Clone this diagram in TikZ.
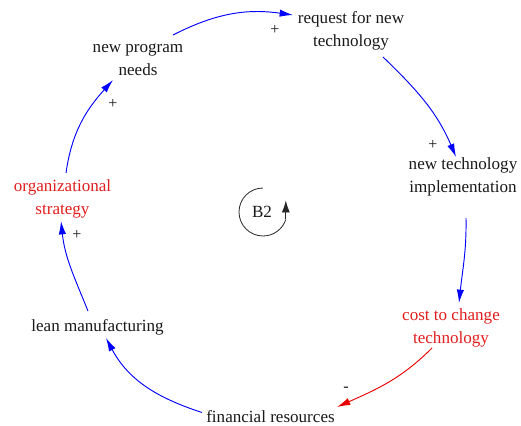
\documentclass[tikz,border=0pt]{standalone}
\usepackage{fontspec}
\setmainfont{Liberation Serif}
\newfontfamily\labelfont{Liberation Serif}
\usetikzlibrary{arrows.meta,calc}
\definecolor{txtblack}{RGB}{25,25,25}
\definecolor{txtred}{RGB}{225,30,30}
\definecolor{linkblue}{RGB}{0,0,255}
\definecolor{linkred}{RGB}{235,0,0}
\begin{document}
\begin{tikzpicture}[x=0.75pt,y=0.75pt,
  var/.style={inner sep=0pt,align=center,text=txtblack,
    font=\labelfont\fontsize{12.8pt}{17.25pt}\selectfont},
  redvar/.style={var,text=txtred},
  sign/.style={inner sep=0pt,text=txtblack,font=\labelfont\fontsize{12pt}{14pt}\selectfont},
  poslink/.style={draw=linkblue,line width=0.7pt,
    -{Latex[length=10pt,width=5.5pt]}},
  neglink/.style={draw=linkred,line width=0.7pt,
    -{Latex[length=10pt,width=5.5pt]}},
  loopmark/.style={draw=black!85,line width=0.6pt}]
\useasboundingbox (0,0) rectangle (521,425);

% variables
\node[var]    (npn) at (138,365.5) {new program\\needs};
\node[var]    (rnt) at (351,394.5) {request for new\\technology};
\node[var]    (nti) at (463,248)   {new technology\\implementation};
\node[redvar] (ctc) at (451,97.5)  {cost to change\\technology};
\node[var]    (fr)  at (270.5,8.5) {financial resources};
\node[var]    (lm)  at (97.5,98)   {lean manufacturing};
\node[redvar] (os)  at (62.5,226.5){organizational\\strategy};

% causal links
\draw[poslink] ($(npn.center)+(35,24.5)$) to[out=27,in=172]
  ($(rnt.center)+(-58,15.5)$);
\draw[poslink] ($(rnt.center)+(32,-26.5)$) to[out=-44,in=113]
  ($(nti.center)+(-7,20)$);
\draw[poslink] ($(nti.center)+(3,-41)$) to[out=-89,in=84]
  ($(ctc.center)+(8,24.5)$);
\draw[neglink] ($(ctc.center)+(-19,-20.5)$) to[out=225,in=24]
  ($(fr.center)+(66.5,9.5)$);
\draw[poslink] ($(fr.center)+(-68.5,4)$) to[out=162,in=-62]
  ($(lm.center)+(8.5,-11)$);
\draw[poslink] ($(lm.center)+(-9.5,16)$) to[out=112,in=-84]
  ($(os.center)+(-1.5,-22.5)$);
\draw[poslink] ($(os.center)+(3.5,25.5)$) to[out=82,in=228]
  ($(npn.center)+(-25,-20.5)$);

% polarity signs
\node[sign] (s1) at (275,395) {+};
\node[sign] (s2) at (433,280) {+};
\node[sign] (s3) at (346,36)  {-};
\node[sign] (s4) at (77,190)  {+};
\node[sign] (s5) at (113,321) {+};

% balancing loop marker
\node[var] (b2) at (262,213) {B2};
\draw[loopmark] ($(b2.center)+(1,24)$) arc[start angle=90,end angle=342,radius=24]
  coordinate (b2end);
\draw[loopmark,-{Latex[length=9pt,width=6pt]}] (b2end) -- ++(0,19);
\end{tikzpicture}
\end{document}
